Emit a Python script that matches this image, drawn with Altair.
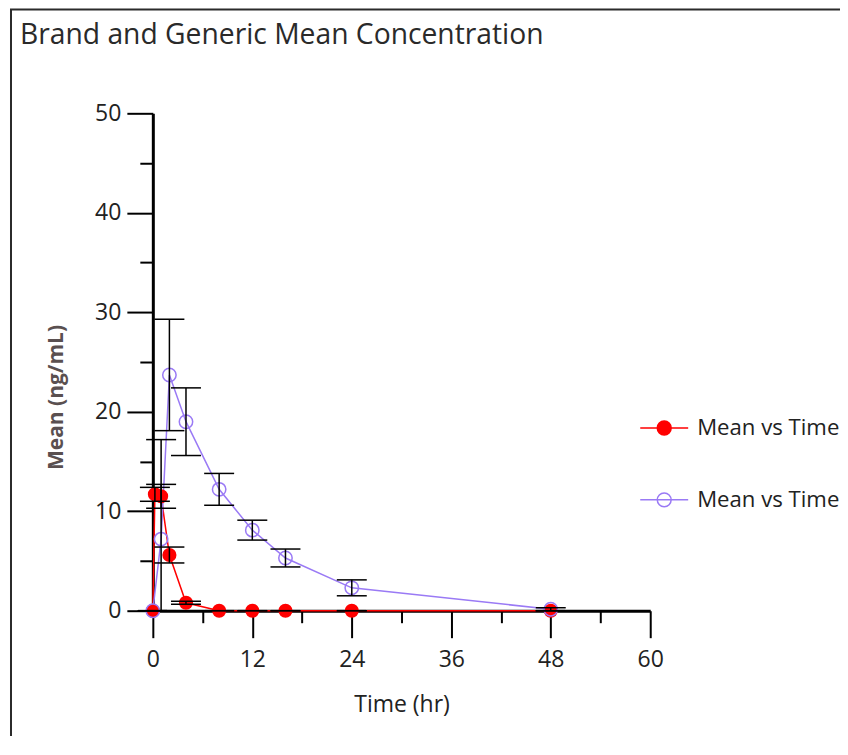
import altair as alt
import pandas as pd
import numpy as np

# ---- data ----
brand_time = [0, 0.25, 1, 2, 4, 8, 12, 16, 24, 48]
brand_mean = [0, 11.7, 11.5, 5.6, 0.8, 0, 0, 0, 0, 0]
brand_sd = [0, 0.7, 1.2, 0.8, 0.15, 0, 0, 0, 0, 0]

generic_time = [0, 1, 2, 4, 8, 12, 16, 24, 48]
generic_mean = [0, 7.2, 23.7, 19.0, 12.2, 8.1, 5.3, 2.3, 0.15]
generic_sd = [0, 10.0, 5.6, 3.4, 1.6, 1.0, 0.9, 0.8, 0.15]

series_names = ["Brand", "Generic"]
series_colors = ["#ff0000", "#9a7af5"]

x_major = [0, 12, 24, 36, 48, 60]
x_minor = [6, 18, 30, 42, 54]
y_major = [0, 10, 20, 30, 40, 50]
y_minor = [5, 15, 25, 35, 45]

brand = pd.DataFrame({"time": brand_time, "mean": brand_mean, "sd": brand_sd})
brand["series"] = "Brand"
generic = pd.DataFrame({"time": generic_time, "mean": generic_mean, "sd": generic_sd})
generic["series"] = "Generic"
df = pd.concat([brand, generic], ignore_index=True)
df["hi"] = df["mean"] + df["sd"]
df["lo"] = np.maximum(df["mean"] - df["sd"], 0)

FONT = "Open Sans"
XS = alt.Scale(domain=[0, 60], nice=False)
YS = alt.Scale(domain=[0, 50], nice=False)

X_AXIS = alt.Axis(values=x_major, tickSize=27, tickWidth=2, tickColor="black",
                  domainWidth=3, domainColor="black", grid=False,
                  labelFont=FONT, labelFontSize=23, labelColor="#222", labelPadding=11,
                  labelFlush=False, labelOverlap=False,
                  title="Time (hr)", titleFont=FONT, titleFontSize=23, titleFontWeight="normal",
                  titleColor="#222", titleX=249, titleY=94, titleBaseline="middle", titleAlign="center",
                  orient="bottom")
Y_AXIS = alt.Axis(values=y_major, tickSize=26, tickWidth=2, tickColor="black",
                  domainWidth=3, domainColor="black", grid=False,
                  labelFont=FONT, labelFontSize=23, labelColor="#222", labelPadding=6,
                  labelFlush=False, labelOverlap=False,
                  title="Mean (ng/mL)", titleFont=FONT, titleFontSize=21, titleFontWeight="bold",
                  titleColor="#5a5050", titleX=-96.5, titleY=284, titleAngle=-90,
                  titleBaseline="middle", titleAlign="center", orient="left")
XM_AXIS = alt.Axis(values=x_minor, tickSize=12, tickWidth=2, tickColor="black", labels=False,
                   domain=False, grid=False, title=None, orient="bottom")
YM_AXIS = alt.Axis(values=y_minor, tickSize=13, tickWidth=2, tickColor="black", labels=False,
                   domain=False, grid=False, title=None, orient="left")

X = alt.X("time:Q", scale=XS, axis=X_AXIS)
Y = alt.Y("mean:Q", scale=YS, axis=Y_AXIS)

LEGEND_SYMBOL = "M-1,0H1M0.29,0A0.29,0.29,0,1,1,-0.29,0A0.29,0.29,0,1,1,0.29,0"

base = alt.Chart(df)

lines = base.mark_line(strokeWidth=1.5).encode(
    x=X, y=Y,
    color=alt.Color("series:N", scale=alt.Scale(domain=series_names, range=series_colors),
                    legend=alt.Legend(title=None, orient="none", legendX=487, legendY=290,
                                      symbolType=LEGEND_SYMBOL, symbolSize=2304,
                                      symbolStrokeWidth=1.5, labelExpr="'Mean vs Time'",
                                      labelFont=FONT, labelFontSize=22.2, labelColor="#222",
                                      labelOffset=8, rowPadding=35, padding=0,
                                      symbolFillColor={"expr": "datum.value === 'Brand' ? '#ff0000' : 'transparent'"})),
    order="time:Q",
)

brand_pts = base.transform_filter("datum.series === 'Brand'").mark_circle(
    size=200, color=series_colors[0], opacity=1).encode(x=X, y=Y)
generic_pts = base.transform_filter("datum.series === 'Generic'").mark_point(
    shape="circle", size=180, filled=False, color=series_colors[1], strokeWidth=1.5, opacity=1
).encode(x=X, y=Y)

err = base.mark_rule(color="black", strokeWidth=1.5).encode(
    x=X, y=alt.Y("lo:Q", scale=YS, axis=Y_AXIS), y2="hi:Q")
cap_hi = base.mark_tick(orient="horizontal", size=30, thickness=1.5, color="black", opacity=1).encode(
    x=X, y=alt.Y("hi:Q", scale=YS, axis=Y_AXIS))
cap_lo = base.mark_tick(orient="horizontal", size=30, thickness=1.5, color="black", opacity=1).encode(
    x=X, y=alt.Y("lo:Q", scale=YS, axis=Y_AXIS))

main = alt.layer(lines, brand_pts, generic_pts, err, cap_hi, cap_lo)

minor = base.mark_point(opacity=0).encode(
    x=alt.X("time:Q", scale=XS, axis=XM_AXIS),
    y=alt.Y("mean:Q", scale=YS, axis=YM_AXIS),
)

frame = alt.Chart(pd.DataFrame({"k": [0]})).mark_rect(
    fillOpacity=0, stroke="#2b2b2b", strokeWidth=2
).encode(x=alt.value(-142), x2=alt.value(720), y=alt.value(-104), y2=alt.value(660))

chart = alt.layer(frame, main, minor).resolve_axis(x="independent", y="independent").properties(
    width=498, height=498,
    autosize=alt.AutoSizeParams(type="none"),
    padding={"left": 145, "top": 105, "right": 190, "bottom": 125},
    title=alt.Title("Brand and Generic Mean Concentration", anchor="start", frame="group",
                    font=FONT, fontSize=28.3, fontWeight="normal", color="#2a2a2a",
                    dx=-133, dy=64, offset=0, baseline="alphabetic"),
).configure_view(stroke=None)

chart.save("out.html", embed_options={"renderer": "svg", "actions": False})
